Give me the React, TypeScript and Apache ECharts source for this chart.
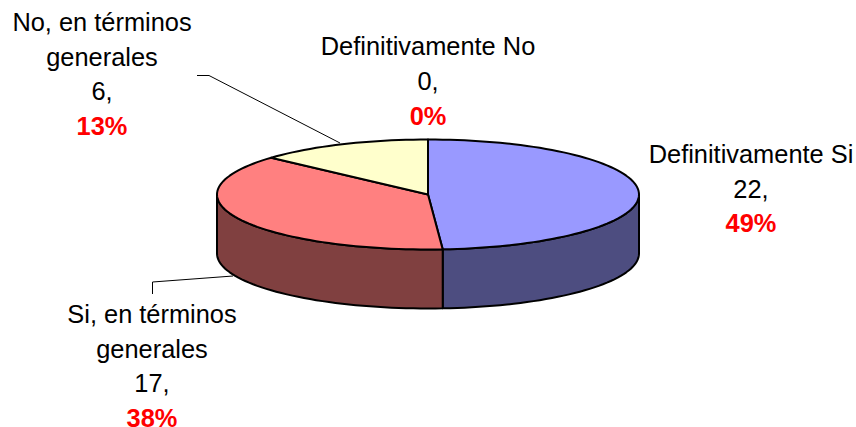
import React, { useEffect, useRef } from "react";
import * as echarts from "echarts";

const categories = ["Definitivamente Si", "Si, en términos\ngenerales", "No, en términos\ngenerales", "Definitivamente No"];
const values = [22, 17, 6, 0];
const topColors = ["#9999FF", "#FF8080", "#FFFFCC", "#CCFFFF"];
const sideColors = ["#4D4D80", "#804040", "#808066", "#668080"];
const labelCenters = [[751, 188.5], [152, 366], [102, 74], [428, 81]];

const CX = 428, CY = 194.5, RX = 211, RY = 55, DEPTH = 59;
const FONT = "Liberation Sans, Arial, sans-serif";

const total = values.reduce((a, b) => a + b, 0);
const rows = values.map((v, i) => {
  const start = values.slice(0, i).reduce((a, b) => a + b, 0);
  return [start, start + v, i];
});
const pt = (deg: number, dy = 0): number[] => {
  const t = (deg * Math.PI) / 180;
  return [CX + RX * Math.sin(t), CY - RY * Math.cos(t) + dy];
};
const arc = (a: number, b: number, dy = 0): number[][] => {
  const n = Math.max(2, Math.ceil(Math.abs(b - a) / 2));
  const out: number[][] = [];
  for (let k = 0; k <= n; k++) out.push(pt(a + ((b - a) * k) / n, dy));
  return out;
};
const outline = { stroke: "#000", lineWidth: 2, lineJoin: "round" as const };

export default function App() {
  const ref = useRef<HTMLDivElement>(null);
  useEffect(() => {
    document.body.style.margin = "0";
    const chart = echarts.init(ref.current!, undefined, { renderer: "svg" });
    chart.setOption({
      animation: false,
      backgroundColor: "#fff",
      series: [
        {
          type: "custom",
          coordinateSystem: "none",
          silent: true,
          data: rows,
          renderItem: (_p: any, api: any) => {
            const i = api.value(2);
            const a = (api.value(0) / total) * 360;
            const b = (api.value(1) / total) * 360;
            const children: any[] = [];
            const wa = Math.max(a, 90), wb = Math.min(b, 270);
            if (wb > wa) {
              children.push({
                type: "polygon",
                z2: 1,
                shape: { points: [...arc(wa, wb), ...arc(wb, wa, DEPTH)] },
                style: { fill: sideColors[i], ...outline },
              });
            }
            return { type: "group", children };
          },
        },
        {
          type: "custom",
          coordinateSystem: "none",
          silent: true,
          z: 3,
          data: rows,
          renderItem: (_p: any, api: any) => {
            const i = api.value(2);
            const a = (api.value(0) / total) * 360;
            const b = (api.value(1) / total) * 360;
            if (b <= a) return { type: "group", children: [] };
            return {
              type: "polygon",
              shape: { points: [[CX, CY], ...arc(a, b)] },
              style: { fill: topColors[i], ...outline },
            };
          },
        },
        {
          type: "custom",
          coordinateSystem: "none",
          silent: true,
          z: 4,
          data: rows,
          renderItem: (_p: any, api: any) => {
            const i = api.value(2);
            const v = values[i];
            const pct = Math.round((v / total) * 100);
            return {
              type: "text",
              x: labelCenters[i][0],
              y: labelCenters[i][1],
              style: {
                text: `{n|${categories[i]}\n${v},}\n{p|${pct}%}`,
                align: "center",
                verticalAlign: "middle",
                rich: {
                  n: { fontFamily: FONT, fontSize: 25.4, lineHeight: 34.7, fill: "#000", align: "center" },
                  p: { fontFamily: FONT, fontSize: 25.4, fontWeight: "bold", lineHeight: 34.7, fill: "#FF0000", align: "center" },
                },
              },
            };
          },
        },
      ],
      graphic: [
        { type: "polyline", z: 5, shape: { points: [[197, 75.5], [209, 75.5], [340, 143]] }, style: { stroke: "#000", lineWidth: 1, fill: "none" } },
        { type: "polyline", z: 5, shape: { points: [[152.5, 294], [152.5, 282], [233, 276]] }, style: { stroke: "#000", lineWidth: 1, fill: "none" } },
      ],
    });
    return () => chart.dispose();
  }, []);
  return <div ref={ref} style={{ width: 856, height: 427 }} />;
}
